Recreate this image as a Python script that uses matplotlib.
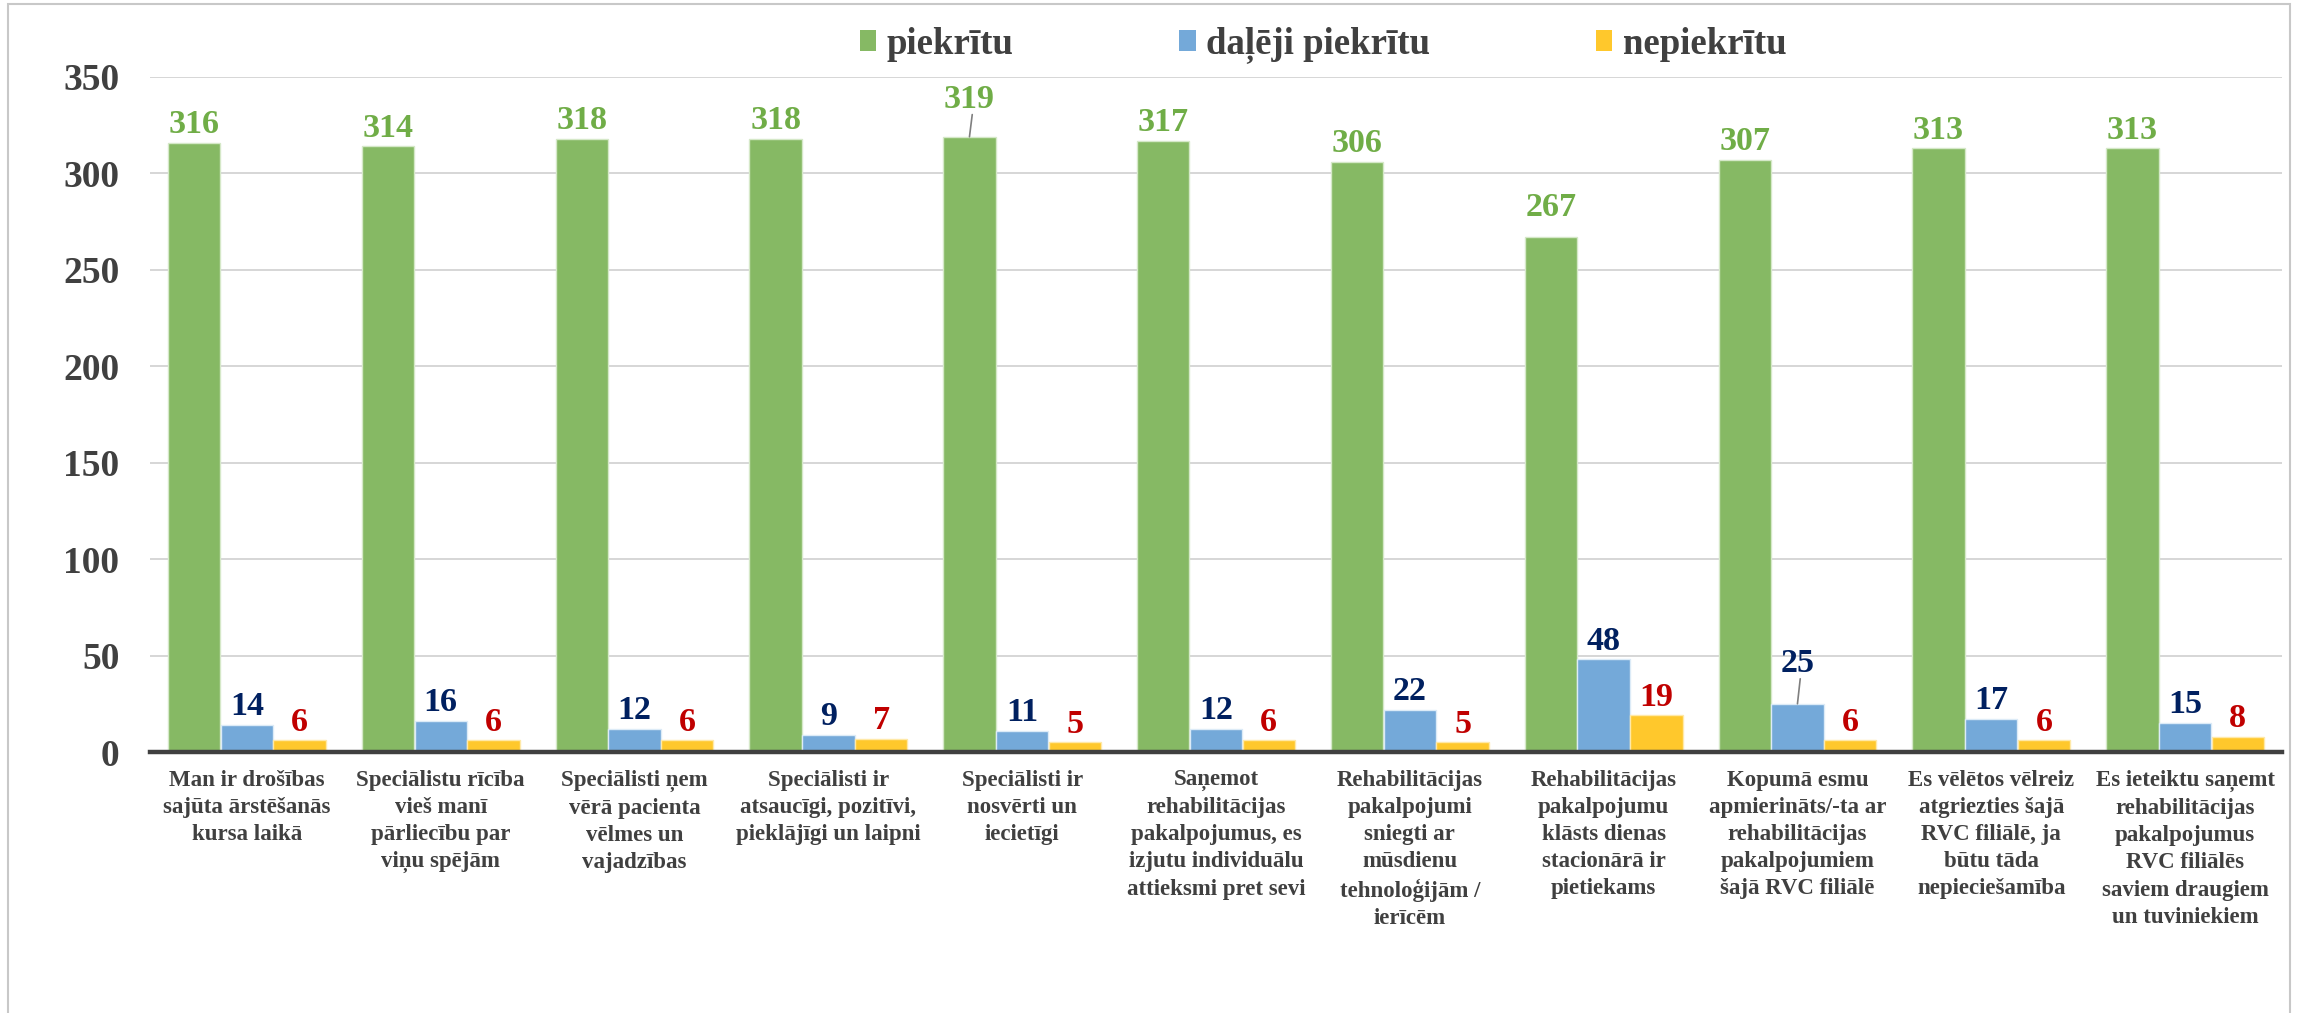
import matplotlib
matplotlib.use("Agg")
import matplotlib.pyplot as plt
from matplotlib.patches import Rectangle
import numpy as np

categories = [
    "Man ir drošības\nsajūta ārstēšanās\nkursa laikā",
    "Speciālistu rīcība\nvieš manī\npārliecību par\nviņu spējām",
    "Speciālisti ņem\nvērā pacienta\nvēlmes un\nvajadzības",
    "Speciālisti ir\natsaucīgi, pozitīvi,\npieklājīgi un laipni",
    "Speciālisti ir\nnosvērti un\niecietīgi",
    "Saņemot\nrehabilitācijas\npakalpojumus, es\nizjutu individuālu\nattieksmi pret sevi",
    "Rehabilitācijas\npakalpojumi\nsniegti ar\nmūsdienu\ntehnoloģijām /\nierīcēm",
    "Rehabilitācijas\npakalpojumu\nklāsts dienas\nstacionārā ir\npietiekams",
    "Kopumā esmu\napmierināts/-ta ar\nrehabilitācijas\npakalpojumiem\nšajā RVC filiālē",
    "Es vēlētos vēlreiz\natgriezties šajā\nRVC filiālē, ja\nbūtu tāda\nnepieciešamība",
    "Es ieteiktu saņemt\nrehabilitācijas\npakalpojumus\nRVC filiālēs\nsaviem draugiem\nun tuviniekiem",
]
series_names = ["piekrītu", "daļēji piekrītu", "nepiekrītu"]
agree = [316, 314, 318, 318, 319, 317, 306, 267, 307, 313, 313]
partly = [14, 16, 12, 9, 11, 12, 22, 48, 25, 17, 15]
disagree = [6, 6, 6, 7, 5, 6, 5, 19, 6, 6, 8]
yticks = [0, 50, 100, 150, 200, 250, 300, 350]

bar_colors = ["#86B964", "#74A9D9", "#FFC82C"]
edge_colors = ["#D5E8C8", "#DCEBF7", "#FFE9A8"]
label_colors = ["#70AD47", "#002060", "#C00000"]
text_gray = "#404040"
FONT = "Liberation Serif"

plt.rcParams["font.family"] = [FONT, "DejaVu Serif"]
plt.rcParams["font.weight"] = "bold"

fig = plt.figure(figsize=(23.05, 10.13), dpi=100)
ax = fig.add_axes([150 / 2305, 1 - 752 / 1013, (2282 - 150) / 2305, (752 - 77) / 1013])

x = np.arange(len(categories))
w = 0.27
off = 0.272
series = [agree, partly, disagree]
# extra raise (points) for labels moved by hand in the original, and leader lines
raised = {(0, 4): 21, (1, 8): 23, (0, 7): 15}
leaders = {(0, 4), (1, 8)}

for si, vals in enumerate(series):
    xs = x + (si - 1) * off
    ax.bar(xs, vals, width=w, color=bar_colors[si], edgecolor=edge_colors[si],
           linewidth=1.0, zorder=2, label=series_names[si])
    for i, v in enumerate(vals):
        dy = raised.get((si, i), 7)
        ax.annotate(str(v), xy=(xs[i], v), xytext=(0, dy), textcoords="offset points",
                    ha="center", va="baseline", fontsize=24.5, fontweight="bold",
                    color=label_colors[si], family=FONT, zorder=4)
        if (si, i) in leaders:
            ax.annotate("", xy=(xs[i], v), xytext=(2, dy - 5), textcoords="offset points",
                        xycoords="data",
                        arrowprops=dict(arrowstyle="-", color="#7F7F7F", lw=1.2,
                                        shrinkA=0, shrinkB=0), zorder=4)

ax.set_xlim(-0.5, len(categories) - 0.5)
ax.set_ylim(0, 350)
ax.set_yticks(yticks)
ax.set_yticklabels([str(t) for t in yticks], fontsize=27, fontweight="bold", color=text_gray)
ax.set_xticks(x)
ax.set_xticklabels(categories, fontsize=16.5, fontweight="bold", color=text_gray, linespacing=1.38)
ax.tick_params(axis="both", length=0)
ax.tick_params(axis="y", pad=22)
ax.tick_params(axis="x", pad=13)

ax.yaxis.grid(True, color="#D0D0D0", linewidth=1.2, zorder=0)
ax.set_axisbelow(True)
for s in ["top", "right", "left"]:
    ax.spines[s].set_visible(False)
ax.spines["bottom"].set_color(text_gray)
ax.spines["bottom"].set_linewidth(3.2)
ax.spines["bottom"].set_zorder(5)

handles, labels = ax.get_legend_handles_labels()
leg = fig.legend(handles, labels, loc="center", bbox_to_anchor=(1323 / 2305, 1 - 45 / 1013),
                 ncol=3, frameon=False, prop={"family": FONT, "weight": "bold", "size": 26.5},
                 handlelength=0.45, handleheight=0.5, handletextpad=0.28, columnspacing=4.5,
                 borderaxespad=0, borderpad=0)
for t in leg.get_texts():
    t.set_color(text_gray)
for h in leg.legend_handles:
    h.set_edgecolor("none")

fig.patches.append(Rectangle((8 / 2305, -0.01), (2290 - 8) / 2305, 1.01 - 4 / 1013,
                             transform=fig.transFigure, fill=False, edgecolor="#C8C8C8",
                             linewidth=1.5, zorder=0))

fig.savefig("out.png", dpi=100, facecolor="white")
